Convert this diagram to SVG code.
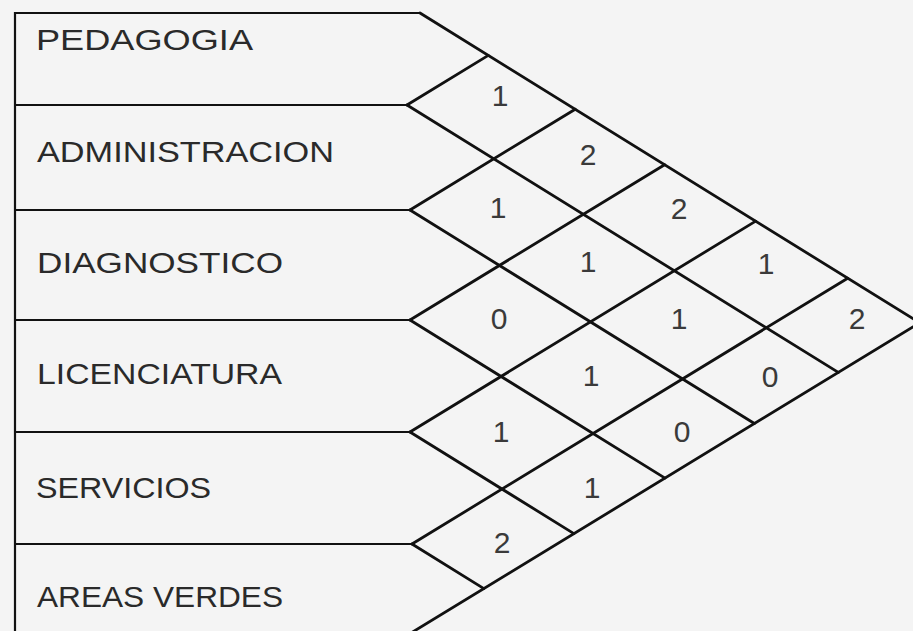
<svg xmlns="http://www.w3.org/2000/svg" width="913" height="631" viewBox="0 0 913 631">
<style>
.bg{fill:#f4f4f4}
.ln{stroke:#111;stroke-width:2.8;fill:none;stroke-linecap:round}
.hl{stroke:#111;stroke-width:2.2;fill:none}
.lbl{font-family:"Liberation Sans",Arial,sans-serif;font-size:30px;fill:#2a2a2a}
.num{font-family:"Liberation Sans",Arial,sans-serif;font-size:30px;fill:#3a3a3a;text-anchor:middle}
</style>
<rect class="bg" x="0" y="0" width="913" height="631"/>
<line class="hl" x1="15" y1="12" x2="15" y2="631"/>
<g id="pedagogia"><line class="hl" x1="15" y1="13" x2="420" y2="13"/><text class="lbl" x="36" y="50" textLength="217" lengthAdjust="spacingAndGlyphs">PEDAGOGIA</text></g>
<g id="administracion"><line class="hl" x1="15" y1="105" x2="407" y2="105"/><text class="lbl" x="37" y="162" textLength="297" lengthAdjust="spacingAndGlyphs">ADMINISTRACION</text></g>
<g id="diagnostico"><line class="hl" x1="15" y1="210" x2="410" y2="210"/><text class="lbl" x="37" y="273" textLength="246" lengthAdjust="spacingAndGlyphs">DIAGNOSTICO</text></g>
<g id="licenciatura"><line class="hl" x1="15" y1="320" x2="410" y2="320"/><text class="lbl" x="37" y="384" textLength="245" lengthAdjust="spacingAndGlyphs">LICENCIATURA</text></g>
<g id="servicios"><line class="hl" x1="15" y1="432" x2="410" y2="432"/><text class="lbl" x="36" y="498" textLength="175" lengthAdjust="spacingAndGlyphs">SERVICIOS</text></g>
<g id="areas-verdes"><line class="hl" x1="15" y1="544" x2="412" y2="544"/><text class="lbl" x="37" y="607" textLength="246" lengthAdjust="spacingAndGlyphs">AREAS VERDES</text></g>
<g id="connectors">
<line class="ln" x1="420" y1="13" x2="919.6" y2="322.8"/>
<line class="ln" x1="407" y1="105" x2="838.3" y2="372.4"/>
<line class="ln" x1="410" y1="210" x2="754.4" y2="423.5"/>
<line class="ln" x1="410" y1="320" x2="665" y2="478.1"/>
<line class="ln" x1="410" y1="432" x2="573.9" y2="533.6"/>
<line class="ln" x1="412" y1="544" x2="483.9" y2="588.6"/>
<line class="ln" x1="407" y1="105" x2="488.3" y2="55.4"/>
<line class="ln" x1="410" y1="210" x2="575.2" y2="109.2"/>
<line class="ln" x1="410" y1="320" x2="664.6" y2="164.7"/>
<line class="ln" x1="410" y1="432" x2="755.7" y2="221.1"/>
<line class="ln" x1="412" y1="544" x2="847.7" y2="278.2"/>
<line class="ln" x1="411" y1="633" x2="919.6" y2="322.8"/>
</g>
<g id="values">
<text class="num" x="500" y="106">1</text>
<text class="num" x="588" y="165">2</text>
<text class="num" x="498" y="218">1</text>
<text class="num" x="679" y="219">2</text>
<text class="num" x="588" y="272">1</text>
<text class="num" x="766" y="274">1</text>
<text class="num" x="499" y="329">0</text>
<text class="num" x="679" y="329">1</text>
<text class="num" x="857" y="329">2</text>
<text class="num" x="591" y="386">1</text>
<text class="num" x="770" y="387">0</text>
<text class="num" x="501" y="442">1</text>
<text class="num" x="682" y="442">0</text>
<text class="num" x="592" y="498">1</text>
<text class="num" x="502" y="553">2</text>
</g>
</svg>
